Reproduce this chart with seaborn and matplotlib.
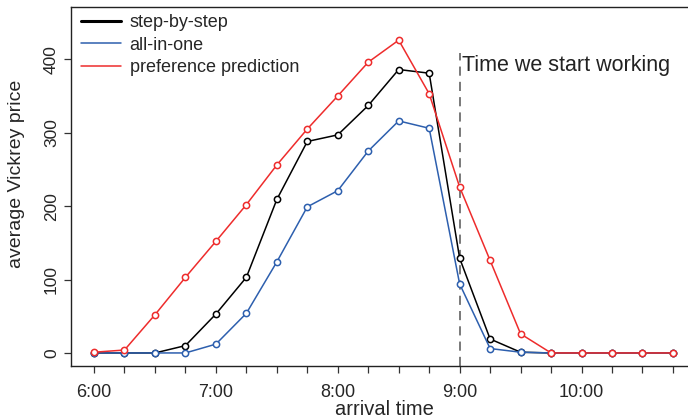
"""
Average Vickrey price by arrival time for three bidding schemes.
"""
import numpy as np
import pandas as pd
from matplotlib import pyplot as plt
import seaborn as sns

# arrival times, every 15 minutes from 6:00 to 10:45 (hours)
times = [6.0, 6.25, 6.5, 6.75, 7.0, 7.25, 7.5, 7.75, 8.0, 8.25,
         8.5, 8.75, 9.0, 9.25, 9.5, 9.75, 10.0, 10.25, 10.5, 10.75]

step_by_step = [0, 0, 0, 10, 53, 103, 209, 288, 297, 337,
                386, 381, 129, 19, 1, 0, 0, 0, 0, 0]
all_in_one = [0, 0, 0, 0, 12, 54, 124, 199, 221, 275,
              316, 306, 94, 6, 1, 0, 0, 0, 0, 0]
preference = [1, 4, 52, 103, 152, 202, 256, 305, 350, 396,
              426, 353, 226, 126, 26, 0, 0, 0, 0, 0]

series_names = ["step-by-step", "all-in-one", "preference prediction"]
series_colors = ["#000000", "#2d5fae", "#ee2c2c"]

xtick_labels = ["6:00", "", "", "", "7:00", "", "", "", "8:00", "", "", "",
                "9:00", "", "", "", "10:00", "", "", ""]
yticks = [0, 100, 200, 300, 400]


def main():
    df = pd.concat(
        [
            pd.DataFrame({"time": times, "price": vals, "series": name})
            for name, vals in zip(series_names, [step_by_step, all_in_one, preference])
        ],
        ignore_index=True,
    )

    sns.set_style("ticks")
    plt.rcParams["font.family"] = ["Liberation Sans", "DejaVu Sans"]

    fig, ax = plt.subplots(
        figsize=(6.88, 4.18),
        dpi=100,
        gridspec_kw=dict(left=0.103, bottom=0.124, right=1.002, top=0.983),
    )

    sns.lineplot(
        data=df,
        x="time",
        y="price",
        hue="series",
        hue_order=series_names,
        palette=series_colors,
        marker="o",
        markersize=4.5,
        markeredgewidth=1.1,
        linewidth=1.1,
        ax=ax,
        legend=False,
    )
    for line, c in zip(ax.lines, series_colors):
        line.set_markerfacecolor("white")
        line.set_markeredgecolor(c)

    # time we start working
    ax.plot([9.0, 9.0], [-18, 408], ls=(0, (6, 4)), color="#555555", lw=1.1, zorder=0)
    ax.text(9.02, 392, "Time we start working", fontsize=15.5, ha="left",
            va="center", color="#222222")

    ax.set_xlim(5.81, 10.885)
    ax.set_ylim(-18, 471)
    ax.set_xticks(times)
    ax.set_xticklabels(xtick_labels, fontsize=13)
    ax.set_yticks(yticks)
    ax.set_yticklabels([str(v) for v in yticks], fontsize=12.5, rotation=90, va="center")
    ax.tick_params(direction="out", length=5, width=0.9, color="#333333")
    ax.tick_params(axis="x", pad=8)
    ax.set_xlabel("arrival time", fontsize=14.5, va="baseline")
    ax.xaxis.set_label_coords(0.507, -0.135)
    ax.set_ylabel("average Vickrey price", fontsize=14)
    ax.yaxis.set_label_coords(-0.074, 0.535)
    for s in ax.spines.values():
        s.set_linewidth(1.0)
        s.set_color("#222222")

    # legend
    handles = [
        plt.Line2D([], [], color=c, lw=2.2 if i == 0 else 1.1)
        for i, c in enumerate(series_colors)
    ]
    ax.legend(
        handles,
        series_names,
        loc="upper left",
        bbox_to_anchor=(-0.01, 1.025),
        frameon=False,
        fontsize=13,
        handlelength=2.2,
        handletextpad=0.5,
        labelspacing=0.3,
    )

    plt.savefig("out.png", dpi=100)


main()
